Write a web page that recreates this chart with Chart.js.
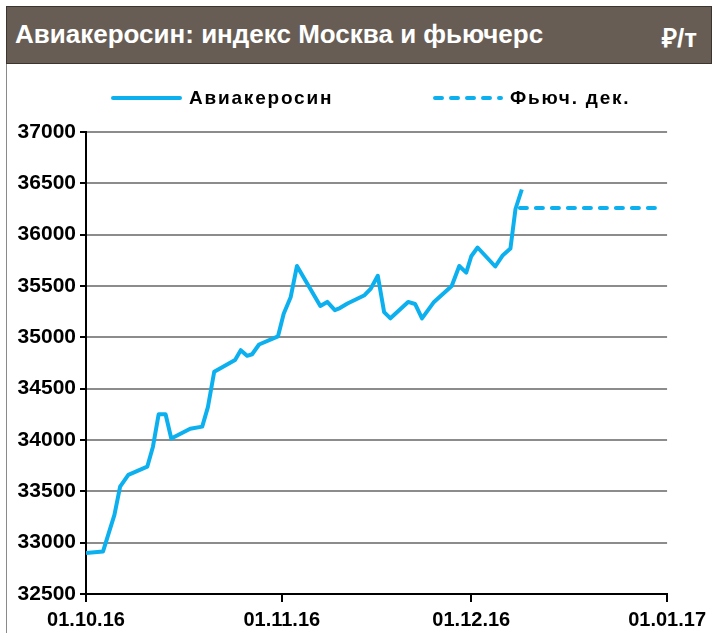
<!DOCTYPE html>
<html>
<head>
<meta charset="utf-8">
<script src="https://cdn.jsdelivr.net/npm/chart.js@4.4.0/dist/chart.umd.min.js"></script>
<style>
body { margin: 0; background: #fff; font-family: "Liberation Sans", Arial, sans-serif; }
#wrap { position: relative; width: 712px; height: 633px; overflow: hidden; }
#head { position: absolute; left: 6px; top: 6px; width: 706px; height: 58px; background: #675d54;
        border: 1px solid #3b342f; box-sizing: border-box; color: #fff; font-weight: bold; font-size: 26px; }
#head .t { position: absolute; left: 8px; top: 12px; }
#head .u { position: absolute; right: 14px; top: 12px; }
#edge { position: absolute; left: 6px; top: 64px; width: 1px; height: 569px; background: #8a8a8a; }
canvas { position: absolute; left: 0; top: 0; }
</style>
</head>
<body>
<div id="wrap">
  <canvas id="kerosinChart" width="712" height="633"></canvas>
  <div id="head"><span class="t">Авиакеросин: индекс Москва и фьючерс</span><span class="u">₽/т</span></div>
  <div id="edge"></div>
</div>
<script>
// дни от 01.10.16 и значения индекса
const days = [0, 2.7, 4.5, 5.4, 6.7, 9.7, 10.6, 11.5, 12.6, 13.5, 16.5, 18.4, 19.3, 20.3,
    23.6, 24.5, 25.5, 26.3, 27.4, 30.4, 31.3, 32.4, 33.4, 37.1, 38.2, 39.4, 40.2, 41.4,
    44.1, 45.1, 46.2, 47.2, 48.2, 51.0, 52.1, 53.2, 55.1, 57.9, 59.1, 60.2, 61.0, 62.0,
    64.8, 66.0, 67.2, 68.0, 69.0];
const kerosin = [32900, 32915, 33270, 33545, 33660, 33740, 33935, 34250, 34250, 34015, 34110, 34130, 34320, 34665,
    34780, 34875, 34820, 34835, 34930, 35010, 35230, 35390, 35695, 35305, 35345, 35265, 35285, 35330,
    35410, 35475, 35600, 35245, 35185, 35345, 35325, 35185, 35345, 35500, 35695, 35630, 35790, 35875,
    35690, 35800, 35865, 36250, 36440];

// фьючерс декабрь
const futDays = [68.7, 90.6];
const futures = [36260, 36260];

const tickDays = [0, 31, 61, 92];
const tickLabels = ["01.10.16", "01.11.16", "01.12.16", "01.01.17"];
const seriesNames = ["Авиакеросин", "Фьюч. дек."];

const blue = "#0db0ee";

// легенда в виде линий
const lineLegend = {
    id: "lineLegend",
    afterDraw(chart) {
        const ctx = chart.ctx;
        const spots = [{ x: 111, w: 71 }, { x: 433, w: 70 }];
        chart.data.datasets.forEach((ds, i) => {
            const s = spots[i];
            ctx.save();
            ctx.strokeStyle = ds.borderColor;
            ctx.lineWidth = 4;
            ctx.lineCap = "round";
            ctx.setLineDash(ds.borderDash || []);
            ctx.beginPath();
            ctx.moveTo(s.x + 2, 98);
            ctx.lineTo(s.x + s.w - 2, 98);
            ctx.stroke();
            ctx.setLineDash([]);
            ctx.fillStyle = "#000";
            ctx.font = "bold 19px 'Liberation Sans', Arial, sans-serif";
            ctx.letterSpacing = "1.8px";
            ctx.textBaseline = "middle";
            ctx.fillText(ds.label, s.x + s.w + 7, 99);
            ctx.restore();
        });
    }
};

const ctx = document.getElementById("kerosinChart").getContext("2d");
const chart = new Chart(ctx, {
    type: "line",
    data: {
        datasets: [
            {
                label: seriesNames[0],
                data: days.map((d, i) => ({ x: d, y: kerosin[i] })),
                borderColor: blue,
                borderWidth: 4,
                pointRadius: 0,
                borderJoinStyle: "round",
                tension: 0,
            },
            {
                label: seriesNames[1],
                data: futDays.map((d, i) => ({ x: d, y: futures[i] })),
                borderColor: blue,
                borderWidth: 4,
                borderDash: [7, 9],
                borderCapStyle: "round",
                pointRadius: 0,
                tension: 0,
            },
        ],
    },
    options: {
        responsive: false,
        animation: false,
        layout: { padding: { top: 132, right: 38, left: 0, bottom: 0 } },
        plugins: { legend: { display: false }, tooltip: { enabled: false } },
        scales: {
            x: {
                type: "linear",
                min: 0,
                max: 92,
                afterBuildTicks: (s) => { s.ticks = tickDays.map((v) => ({ value: v })); },
                afterFit: (s) => { s.height = 39; },
                ticks: {
                    callback: (v, i) => tickLabels[i],
                    autoSkip: false,
                    maxRotation: 0,
                    color: "#000",
                    padding: 6,
                    font: { family: "'Liberation Sans', Arial", size: 20, weight: "bold" },
                },
                grid: { drawOnChartArea: false, tickLength: 8, color: "#000", lineWidth: 2 },
                border: { color: "#000", width: 2 },
            },
            y: {
                min: 32500,
                max: 37000,
                afterFit: (s) => { s.width = 86; },
                ticks: {
                    stepSize: 500,
                    callback: (v) => String(v),
                    color: "#000",
                    padding: 4,
                    font: { family: "'Liberation Sans', Arial", size: 21, weight: "bold" },
                },
                grid: { color: "#8c8c8c", lineWidth: 2, tickLength: 6, tickColor: "#000" },
                border: { color: "#000", width: 2 },
            },
        },
    },
    plugins: [lineLegend],
});
</script>
</body>
</html>
